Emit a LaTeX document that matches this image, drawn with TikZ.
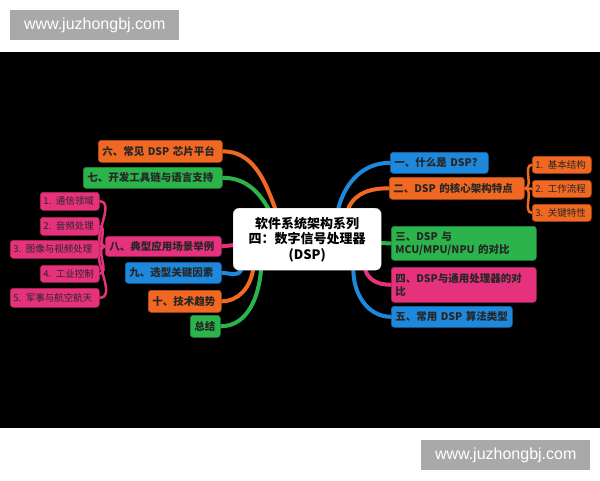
\documentclass[tikz,border=0pt]{standalone}
\usepackage{fontspec}
\setmainfont{Noto Sans CJK SC}
\newfontfamily\wmfont{Liberation Sans}
\usetikzlibrary{backgrounds}
\definecolor{dsporange}{RGB}{240,104,34}
\definecolor{dspgreen}{RGB}{44,180,76}
\definecolor{dspblue}{RGB}{30,136,220}
\definecolor{dsppink}{RGB}{230,50,125}
\definecolor{wmgray}{RGB}{169,169,169}

\begin{document}
\begin{tikzpicture}[x=1pt,y=-1pt,
        branch/.style={rounded corners=3pt, draw=#1!75!black, fill=#1, line width=0.6pt,
            text=black!85, font=\bfseries\fontsize{10.5}{13}\selectfont,
            inner xsep=4pt, inner ysep=0pt, anchor=north west, align=left},
        leaf/.style={branch=#1, font=\fontsize{9.5}{11}\selectfont, inner xsep=3pt},
        hub/.style={rounded corners=6pt, fill=white, draw=gray!40, text=black,
            font=\bfseries\fontsize{13}{15.5}\selectfont, align=center,
            minimum width=148pt, minimum height=62pt, anchor=north west},
        link/.style={line width=4pt, line cap=round},
        twig/.style={line width=2.5pt, line cap=round},
        stamp/.style={fill=wmgray, text=white, font=\wmfont\fontsize{16}{18}\selectfont,
            minimum width=169pt, minimum height=30pt, inner sep=0pt, anchor=north west}]
    \useasboundingbox (0,0) rectangle (600,480);

    \node[stamp] (wmtop) at (10,10) {www.juzhongbj.com};
    \node[stamp] (wmbot) at (421,440) {www.juzhongbj.com};

    \node[hub] (hub) at (233,208) {软件系统架构系列\\四：数字信号处理器\\(DSP)};

    % right side
    \node[branch=dspblue, text width=90pt, minimum height=21pt] (q1) at (390,152) {一、什么是 DSP?};
    \node[branch=dsporange, text width=127pt, minimum height=22pt] (q2) at (389,177) {二、DSP 的核心架构特点};
    \node[branch=dspgreen, text width=137pt, minimum height=34pt] (q3) at (391,226) {三、DSP 与\\MCU/MPU/NPU 的对比};
    \node[branch=dsppink, text width=137pt, minimum height=35pt] (q4) at (391,267) {四、DSP与通用处理器的对\\比};
    \node[branch=dspblue, text width=113pt, minimum height=21pt] (q5) at (391,306) {五、常用 DSP 算法类型};

    \node[leaf=dsporange, text width=53pt, minimum height=17pt] (r1) at (532,156) {1. 基本结构};
    \node[leaf=dsporange, text width=53pt, minimum height=17pt] (r2) at (532,180) {2. 工作流程};
    \node[leaf=dsporange, text width=53pt, minimum height=17pt] (r3) at (532,204) {3. 关键特性};

    % left side
    \node[branch=dsporange, text width=116pt, minimum height=22pt] (q6) at (98,140) {六、常见 DSP 芯片平台};
    \node[branch=dspgreen, text width=131pt, minimum height=21pt] (q7) at (83,167) {七、开发工具链与语言支持};
    \node[branch=dsppink, text width=108pt, minimum height=20pt] (q8) at (105,236) {八、典型应用场景举例};
    \node[branch=dspblue, text width=88pt, minimum height=21pt] (q9) at (125,262) {九、选型关键因素};
    \node[branch=dsporange, text width=65pt, minimum height=22pt] (q10) at (148,290) {十、技术趋势};
    \node[branch=dspgreen, text width=22pt, minimum height=22pt] (q11) at (190,315) {总结};

    \node[leaf=dsppink, text width=53pt, minimum height=18pt] (s1) at (40,192) {1. 通信领域};
    \node[leaf=dsppink, text width=53pt, minimum height=18pt] (s2) at (40,217) {2. 音频处理};
    \node[leaf=dsppink, text width=83pt, minimum height=18pt] (s3) at (10,240) {3. 图像与视频处理};
    \node[leaf=dsppink, text width=53pt, minimum height=17pt] (s4) at (40,265) {4. 工业控制};
    \node[leaf=dsppink, text width=83pt, minimum height=19pt] (s5) at (10,288) {5. 军事与航空航天};

    \begin{scope}[on background layer]
        \fill[black] (0,52) rectangle (600,428);

        \draw[link, dspblue] ([xshift=-43pt]hub.north east) to[out=75,in=180] (q1.west);
        \draw[link, dsporange] ([xshift=-33pt]hub.north east) to[out=65,in=180] (q2.west);
        \draw[link, dspgreen] ([yshift=-4pt]hub.east) -- (q3.west);
        \draw[link, dsppink] ([xshift=-16pt]hub.south east) to[out=-70,in=180] (q4.west);
        \draw[link, dspblue] ([xshift=-28pt]hub.south east) to[out=-90,in=180] (q5.west);

        \draw[link, dsporange] ([xshift=42pt]hub.north west) to[out=110,in=0] (q6.east);
        \draw[link, dspgreen] ([xshift=35pt]hub.north west) to[out=120,in=0] (q7.east);
        \draw[link, dsppink] ([yshift=-6pt]hub.west) -- (q8.east);
        \draw[link, dspblue] ([xshift=8pt]hub.south west) to[out=-120,in=0] (q9.east);
        \draw[link, dsporange] ([xshift=20pt]hub.south west) to[out=-100,in=0] (q10.east);
        \draw[link, dspgreen] ([xshift=28pt]hub.south west) to[out=-95,in=0] (q11.east);

        \foreach \r in {r1,r2,r3}
            \draw[twig, dsporange] (q2.east) to[out=0,in=180] (\r.west);
        \foreach \s in {s1,s2,s3,s4,s5}
            \draw[twig, dsppink] (q8.west) to[out=180,in=0] (\s.east);
    \end{scope}
\end{tikzpicture}
\end{document}
